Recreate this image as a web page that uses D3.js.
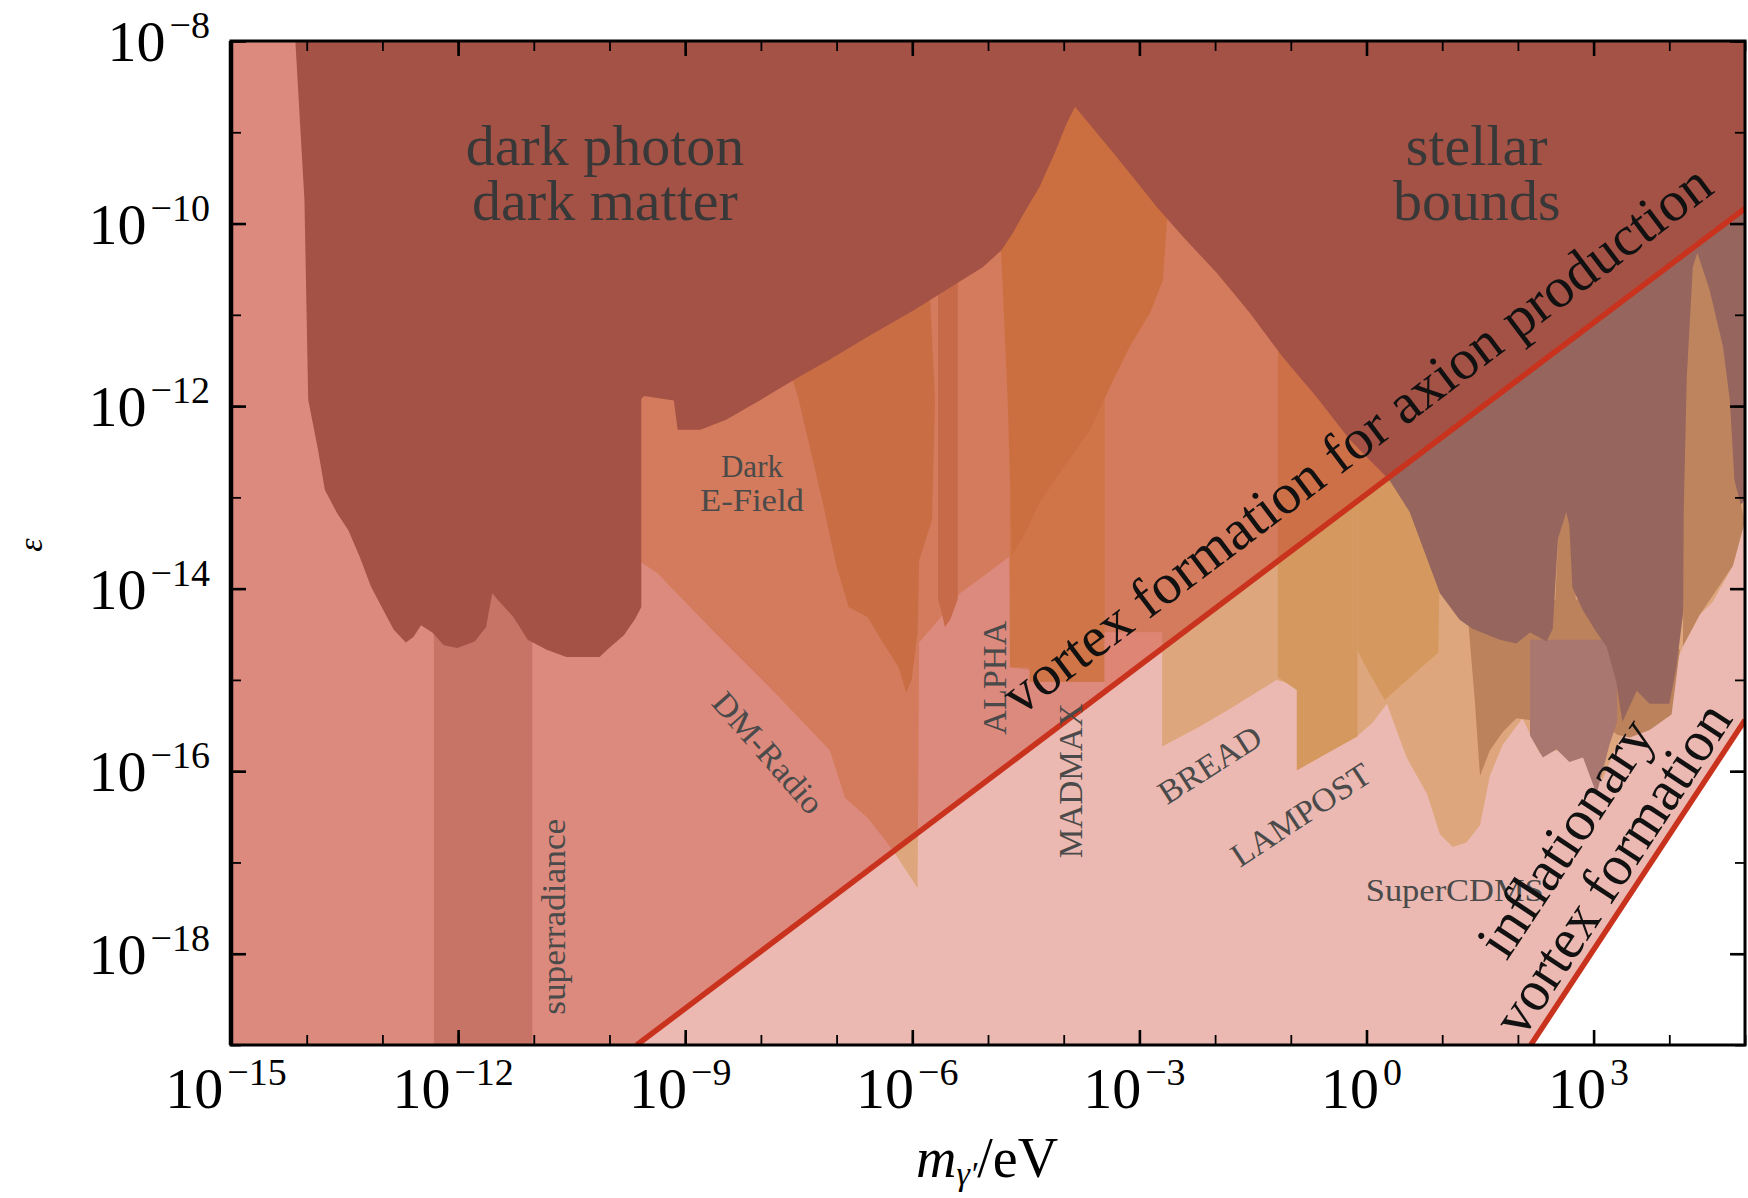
<!DOCTYPE html>
<html>
<head>
<meta charset="utf-8">
<script src="https://cdn.jsdelivr.net/npm/d3@7"></script>
<style>
  html, body { margin: 0; padding: 0; background: #fff; }
  svg { display: block; font-family: "Liberation Serif", "DejaVu Serif", serif; }
</style>
</head>
<body>
<svg id="chart" width="1748" height="1198"></svg>
<script>
// ---- axis ranges and tick labels (log10 units) ----
const massDecades = [-15, 5];
const epsDecades = [-19, -8];
const xTickLabels = [-15, -12, -9, -6, -3, 0, 3];
const yTickLabels = [-18, -16, -14, -12, -10, -8];

// ---- boundary lines, [log10 m/eV, log10 eps] ----
const vortexLine = [[-9.64, -19], [5, -9.835]];
const inflationLine = [[2.17, -19], [5, -15.44]];

// ---- excluded / projected regions, [log10 m/eV, log10 eps] ----
const superradiance = [[-12.32, -19], [-11.02, -19], [-11.02, -13.5], [-12.32, -13.5]];

const darkPhotonDM = [
  [-14.15, -8], [-14.03, -9.74], [-13.98, -11.93], [-13.85, -12.48], [-13.76, -12.92],
  [-13.60, -13.17], [-13.45, -13.36], [-13.30, -13.65], [-13.15, -13.98], [-12.99, -14.23],
  [-12.85, -14.45], [-12.69, -14.59], [-12.59, -14.53], [-12.49, -14.40], [-12.34, -14.48],
  [-12.19, -14.62], [-12.01, -14.65], [-11.78, -14.58], [-11.63, -14.42], [-11.55, -14.05],
  [-11.48, -14.12], [-11.27, -14.31], [-11.08, -14.56], [-10.83, -14.67], [-10.57, -14.75],
  [-10.13, -14.75], [-10.02, -14.66], [-9.81, -14.51], [-9.66, -14.33], [-9.58, -14.20],
  [-9.58, -11.92], [-9.54, -11.89], [-9.15, -11.94], [-9.10, -12.26], [-8.80, -12.26],
  [-8.46, -12.15], [-8.00, -11.93], [-7.50, -11.68], [-7.09, -11.49], [-6.59, -11.24],
  [-5.98, -10.95], [-5.48, -10.69], [-5.07, -10.48], [-4.82, -10.29], [-4.67, -10.10],
  [-4.52, -9.88], [-4.32, -9.60], [-4.12, -9.23], [-3.96, -8.90], [-3.85, -8.72],
  [-3.30, -9.27], [-2.77, -9.82], [-2.43, -10.14], [-1.98, -10.54], [-1.54, -10.98],
  [-1.11, -11.46], [-0.66, -11.90], [-0.22, -12.37], [0.28, -12.79], [5, -9.835], [5, -8]
];

const haloscopes = [
  [-9.62, -11.71], [-6.16, -10.29], [-3.85, -8.65], [0.44, -12.59], [5, -9.74], [5, -13.26],
  [4.84, -13.75], [4.57, -14.15], [4.40, -14.29], [4.18, -14.63], [4.04, -14.92], [3.87, -15.22],
  [3.74, -15.36], [3.52, -15.42], [3.31, -15.71], [3.12, -16.09], [2.86, -15.81], [2.59, -15.76],
  [2.29, -15.81], [2.06, -15.42], [1.80, -15.71], [1.63, -16.05], [1.50, -16.59], [1.32, -16.78],
  [1.14, -16.83], [0.97, -16.69], [0.80, -16.25], [0.53, -15.85], [0.27, -15.26], [0.08, -15.47],
  [-0.13, -15.62], [-0.45, -15.77], [-0.92, -15.99], [-0.92, -15.11], [-1.05, -15.03],
  [-1.19, -15.00], [-1.77, -15.30], [-2.20, -15.51], [-2.70, -15.73], [-2.70, -14.48],
  [-3.46, -14.48], [-3.46, -15.02], [-4.45, -15.02], [-4.45, -14.89], [-4.71, -14.86],
  [-4.72, -13.65], [-5.07, -13.87], [-5.37, -14.05], [-5.58, -14.27], [-5.91, -14.59],
  [-5.93, -17.28], [-6.28, -16.84], [-6.59, -16.51], [-6.89, -16.29], [-7.09, -15.77],
  [-7.85, -15.11], [-8.61, -14.48], [-9.37, -13.83], [-9.57, -13.72], [-9.62, -13.69]
];

const darkEFieldLobe = [
  [-7.62, -11.6], [-7.50, -11.93], [-7.40, -12.29], [-7.19, -13.03], [-7.00, -13.76],
  [-6.84, -14.20], [-6.59, -14.31], [-6.39, -14.59], [-6.18, -14.86], [-6.08, -15.14],
  [-6.01, -15.00], [-5.93, -14.48], [-5.91, -13.69], [-5.74, -13.25], [-5.70, -11.93], [-5.77, -10.73]
];

const alphaRegion = [[-4.71, -13.03], [-3.46, -11.82], [-3.46, -15.02], [-4.45, -15.02], [-4.45, -14.86], [-4.71, -14.86]];

const peakRegion = [
  [-4.84, -10.07], [-3.85, -8.65], [-2.60, -9.74], [-2.64, -10.02], [-2.69, -10.62], [-2.86, -10.98],
  [-3.13, -11.35], [-3.39, -11.79], [-3.65, -12.26], [-3.96, -12.62], [-4.32, -13.06],
  [-4.49, -13.36], [-4.68, -13.63], [-4.74, -11.93]
];

const jaggedStrip = [[-5.66, -10.5], [-5.40, -10.5], [-5.40, -14.12], [-5.50, -14.34], [-5.57, -14.42], [-5.62, -14.23], [-5.66, -14.12]];

const madmaxRegion = [[-3.46, -14.48], [-2.70, -14.48], [-2.70, -14.655], [-3.46, -15.131]];

const lampostStrip = [[-1.17, -11.17], [-0.12, -12.26], [-0.12, -15.62], [-0.45, -15.77], [-0.92, -15.99], [-0.92, -15.11], [-1.17, -14.97]];

const opticalStrip = [[-0.12, -12.26], [0.97, -13.47], [0.95, -14.70], [0.65, -14.92], [0.24, -15.22], [-0.06, -14.78], [-0.12, -14.67]];

const brownRegion = [
  [1.32, -14.12], [3.08, -14.12], [4.14, -14.67], [4.03, -15.38], [3.74, -15.55], [3.48, -15.63],
  [3.31, -15.60], [3.08, -15.44], [2.16, -15.44], [1.98, -15.42], [1.80, -15.57], [1.63, -15.77],
  [1.50, -16.05], [1.43, -15.22]
];

const midSpike = [[2.47, -14.56], [2.54, -13.28], [2.63, -13.02], [2.70, -13.25], [2.80, -14.56]];

const lightMauve = [
  [2.16, -14.56], [3.31, -14.56], [3.31, -15.46], [3.21, -15.71], [3.04, -16.25], [2.86, -15.85],
  [2.68, -15.90], [2.51, -15.76], [2.33, -15.85], [2.16, -15.61]
];

const mauveRegion = [
  [0.18, -12.70], [5, -9.63], [5, -13.03], [4.27, -13.69], [4.09, -14.88], [4.00, -15.26],
  [3.74, -15.26], [3.57, -15.12], [3.38, -15.46], [3.30, -15.02], [3.17, -14.63], [3.04, -14.48],
  [2.86, -14.24], [2.72, -13.99], [2.68, -13.31], [2.64, -13.16], [2.53, -13.45], [2.46, -14.44],
  [2.38, -14.58], [2.16, -14.48], [1.98, -14.60], [1.76, -14.56], [1.40, -14.44], [1.23, -14.34],
  [0.97, -14.05], [0.79, -13.65], [0.57, -13.16], [0.31, -12.82]
];

const rightSpike = [
  [4.18, -14.78], [4.19, -13.16], [4.23, -11.70], [4.31, -10.48], [4.37, -10.32], [4.53, -10.72],
  [4.71, -11.35], [4.80, -11.94], [4.86, -12.81], [5, -13.26], [4.84, -13.75], [4.40, -14.29], [4.18, -14.63]
];

// ---- layout ----
const L = 231, R = 1745, T = 41, B = 1045;
const svg = d3.select('#chart');

const x = d3.scaleLog().domain([10 ** massDecades[0], 10 ** massDecades[1]]).range([L, R]);
const y = d3.scaleLog().domain([10 ** epsDecades[0], 10 ** epsDecades[1]]).range([B, T]);
const path = d3.line().x(p => x(10 ** p[0])).y(p => y(10 ** p[1]));
const closed = pts => path(pts) + 'Z';

const defs = svg.append('defs');
defs.append('clipPath').attr('id', 'plotClip')
  .append('rect').attr('x', L).attr('y', T).attr('width', R - L).attr('height', B - T);

const aboveVortex = [[massDecades[0], epsDecades[0]], vortexLine[0], vortexLine[1], [massDecades[1], epsDecades[1]], [massDecades[0], epsDecades[1]]];
const belowVortex = [vortexLine[0], [massDecades[1], epsDecades[0]], vortexLine[1]];
const aboveInflation = [[massDecades[0], epsDecades[0]], inflationLine[0], inflationLine[1], [massDecades[1], epsDecades[1]], [massDecades[0], epsDecades[1]]];

defs.append('clipPath').attr('id', 'clipAbove').append('path').attr('d', closed(aboveVortex));
defs.append('clipPath').attr('id', 'clipBelow').append('path').attr('d', closed(belowVortex));

const plot = svg.append('g').attr('clip-path', 'url(#plotClip)');

// cosmological vortex bounds as background shading
plot.append('path').attr('d', closed(aboveInflation)).attr('fill', '#EBB9B1');
plot.append('path').attr('d', closed(aboveVortex)).attr('fill', '#DD8A7E');

plot.append('path').attr('d', closed(superradiance)).attr('fill', '#C77467');

// regions that change shade across the vortex line
function split(pts, above, below) {
  plot.append('g').attr('clip-path', 'url(#clipAbove)')
    .append('path').attr('d', closed(pts)).attr('fill', above);
  plot.append('g').attr('clip-path', 'url(#clipBelow)')
    .append('path').attr('d', closed(pts)).attr('fill', below);
}
function fill(pts, color) {
  plot.append('path').attr('d', closed(pts)).attr('fill', color);
}

split(haloscopes, '#D37B5C', '#DEA67C');
fill(darkEFieldLobe, '#C96D45');
fill(jaggedStrip, '#C66A4A');
fill(alphaRegion, '#CF7548');
fill(peakRegion, '#CB6F40');
fill(madmaxRegion, '#DF8575');
split(lampostStrip, '#CD7048', '#D5985F');
split(opticalStrip, '#CD7048', '#D5995F');
fill(brownRegion, '#BC825C');
fill(midSpike, '#BC825C');
fill(lightMauve, '#A9776F');
fill(mauveRegion, '#96655D');
fill(rightSpike, '#BE845E');
fill(darkPhotonDM, '#A45246');

// vortex formation lines
[vortexLine, inflationLine].forEach(ln => {
  plot.append('path').attr('d', path(ln)).attr('fill', 'none')
    .attr('stroke', '#C9321D').attr('stroke-width', 5.5);
});

// ---- axes (inward ticks on all four sides) ----
const xDec = d3.range(massDecades[0], massDecades[1] + 1).map(k => 10 ** k);
const yDec = d3.range(epsDecades[0], epsDecades[1] + 1).map(k => 10 ** k);
const xMajor = xTickLabels.map(k => 10 ** k);
const yMajor = yTickLabels.map(k => 10 ** k);

function drawAxis(axis, tx, ty, w) {
  const g = svg.append('g').attr('transform', `translate(${tx},${ty})`).call(axis);
  g.select('.domain').remove();
  g.selectAll('.tick text').remove();
  g.selectAll('.tick line').attr('stroke', '#000').attr('stroke-width', w);
}
drawAxis(d3.axisBottom(x).tickValues(xDec).tickSize(-10), 0, B, 1.8);
drawAxis(d3.axisBottom(x).tickValues(xMajor).tickSize(-15), 0, B, 2.6);
drawAxis(d3.axisTop(x).tickValues(xDec).tickSize(-10), 0, T, 1.8);
drawAxis(d3.axisTop(x).tickValues(xMajor).tickSize(-15), 0, T, 2.6);
drawAxis(d3.axisLeft(y).tickValues(yDec).tickSize(-10), L, 0, 1.8);
drawAxis(d3.axisLeft(y).tickValues(yMajor).tickSize(-15), L, 0, 2.6);
drawAxis(d3.axisRight(y).tickValues(yDec).tickSize(-10), R, 0, 1.8);
drawAxis(d3.axisRight(y).tickValues(yMajor).tickSize(-15), R, 0, 2.6);

svg.append('rect').attr('x', L).attr('y', T).attr('width', R - L).attr('height', B - T)
  .attr('fill', 'none').attr('stroke', '#000').attr('stroke-width', 3);
svg.append('line').attr('x1', L).attr('x2', L).attr('y1', T).attr('y2', B)
  .attr('stroke', '#000').attr('stroke-width', 4.5);

// tick labels 10^k
function powerLabel(k, px, py, anchor) {
  const t = svg.append('text').attr('x', px).attr('y', py).attr('text-anchor', anchor)
    .attr('fill', '#000').attr('font-size', 58);
  t.append('tspan').text('10');
  t.append('tspan').attr('dx', 4).attr('dy', -23).attr('font-size', 38).text(k < 0 ? '\u2212' + (-k) : String(k));
}
xTickLabels.forEach(k => powerLabel(k, x(10 ** k) - 5, B + 63, 'middle'));
yTickLabels.forEach(k => powerLabel(k, 210, y(10 ** k) + 20, 'end'));

// axis titles
svg.append('text').attr('transform', 'translate(42,545) rotate(-90)')
  .attr('text-anchor', 'middle').attr('font-size', 34).attr('font-style', 'italic').text('\u03b5');

const xt = svg.append('text').attr('x', 987).attr('y', 1177).attr('text-anchor', 'middle').attr('font-size', 56);
xt.append('tspan').attr('font-style', 'italic').text('m');
xt.append('tspan').attr('font-style', 'italic').attr('font-size', 34).attr('dy', 8).text('\u03b3\u2032');
xt.append('tspan').attr('dy', -8).text('/eV');

// ---- annotations ----
const ann = svg.append('g');
function label(txt, lm, le, opts) {
  const o = Object.assign({ size: 33, color: '#4a4a4a', rot: 0, anchor: 'middle' }, opts || {});
  const t = ann.append('text')
    .attr('transform', `translate(${x(10 ** lm)},${y(10 ** le)}) rotate(${o.rot})`)
    .attr('text-anchor', o.anchor).attr('font-size', o.size).attr('fill', o.color).text(txt);
  if (o.dy) t.attr('dy', o.dy);
  if (o.len) t.attr('textLength', o.len).attr('lengthAdjust', 'spacingAndGlyphs');
  return t;
}

label('dark photon', -10.06, -9.36, { size: 58, color: '#383838' });
label('dark matter', -10.06, -9.96, { size: 58, color: '#383838' });
label('stellar', 1.456, -9.36, { size: 58, color: '#383838' });
label('bounds', 1.456, -9.96, { size: 58, color: '#383838' });

label('Dark', -8.118, -12.775, { size: 31 });
label('E-Field', -8.118, -13.148, { size: 31, len: 104 });
label('DM-Radio', -7.906, -15.799, { size: 33, rot: 48.7, dy: 11, len: 150 });
label('ALPHA', -4.902, -14.977, { size: 33, rot: -90, dy: 11, len: 114 });
label('MADMAX', -3.905, -16.105, { size: 33, rot: -90, dy: 11, len: 155 });
label('superradiance', -10.706, -17.595, { size: 33, rot: -90, dy: 9, len: 196 });
label('BREAD', -2.069, -15.930, { size: 33, rot: -32.6, dy: 11, len: 116 });
label('LAMPOST', -0.868, -16.478, { size: 33, rot: -33.3, dy: 11, len: 160 });
label('SuperCDMS', -0.010, -17.420, { size: 31, anchor: 'start', len: 178 });

// text running along the vortex lines
function lineAt(ln, lm) {
  const [a, b] = ln;
  return a[1] + (b[1] - a[1]) * (lm - a[0]) / (b[0] - a[0]);
}
function lineAngle(ln) {
  const dx = x(10 ** ln[1][0]) - x(10 ** ln[0][0]);
  const dy = y(10 ** ln[1][1]) - y(10 ** ln[0][1]);
  return Math.atan2(dy, dx) * 180 / Math.PI;
}
const vAng = lineAngle(vortexLine);
label('vortex formation for axion production', -4.33, lineAt(vortexLine, -4.33),
  { size: 57, color: '#111', rot: vAng, anchor: 'start', dy: -31, len: 872 });

const iAng = lineAngle(inflationLine);
const iPos = 3.567;
label('inflationary', iPos, lineAt(inflationLine, iPos),
  { size: 58, color: '#111', rot: iAng, dy: -66, len: 272 });
label('vortex formation', iPos, lineAt(inflationLine, iPos),
  { size: 58, color: '#111', rot: iAng, dy: -10, len: 384 });
</script>
</body>
</html>
